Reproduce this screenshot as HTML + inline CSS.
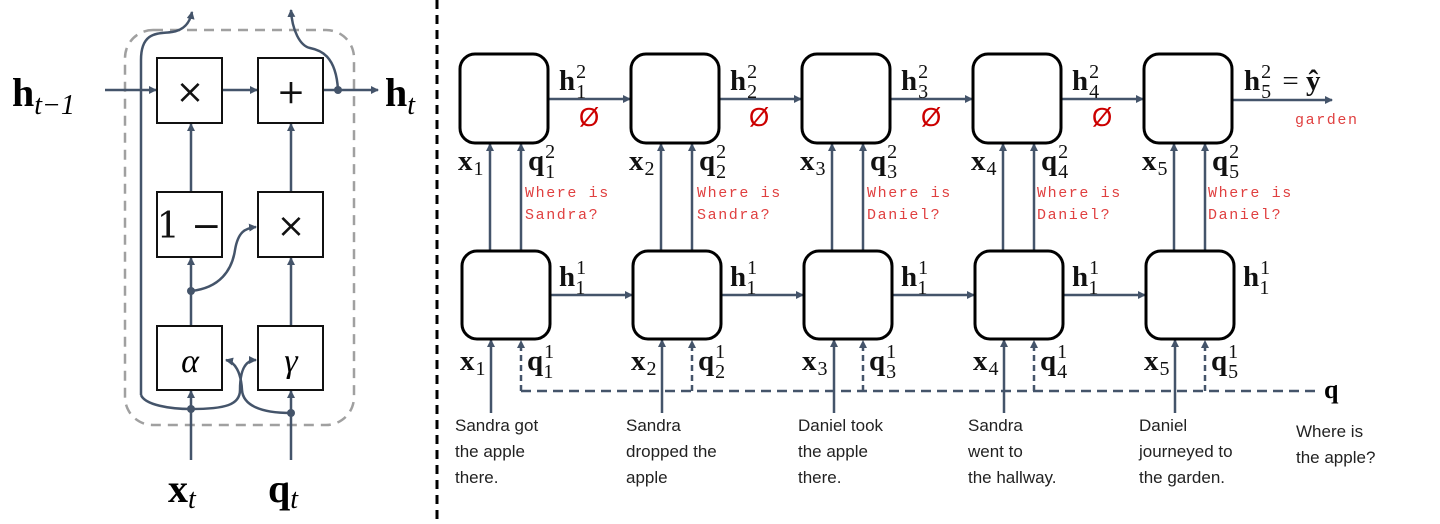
<!DOCTYPE html>
<html><head><meta charset="utf-8"><style>
html,body{margin:0;padding:0;background:#fff;}
svg{display:block;}
.m{font-family:"DejaVu Serif","Liberation Serif",serif;}
.b{font-family:"Liberation Serif",serif;font-weight:bold;}
.i{font-family:"Liberation Serif",serif;font-style:italic;}
.r{font-family:"Liberation Mono",monospace;fill:#e04040;font-size:15px;letter-spacing:1.6px;}
.c{font-family:"Liberation Sans",sans-serif;font-size:17px;fill:#222;}
.n{font-weight:normal;font-size:20px;}
</style></head><body>
<svg width="1440" height="524" viewBox="0 0 1440 524" xmlns="http://www.w3.org/2000/svg">
<defs>
<marker id="a" markerWidth="8" markerHeight="8" refX="7" refY="4" orient="auto" markerUnits="userSpaceOnUse">
<path d="M0,0 L8,4 L0,8 z" fill="#44546a"/></marker>
</defs>
<!-- LEFT -->
<rect x="125" y="30" width="229" height="395" rx="28" fill="none" stroke="#a0a0a0" stroke-width="2.5" stroke-dasharray="10,7"/>
<g fill="none" stroke="#44546a" stroke-width="2.5">
<line x1="105" y1="90" x2="156" y2="90" marker-end="url(#a)"/>
<line x1="222" y1="90" x2="257" y2="90" marker-end="url(#a)"/>
<line x1="323" y1="90" x2="378" y2="90" marker-end="url(#a)"/>
<path d="M338,90 C336,55 320,50 310,48 C300,46 292,30 291,10" marker-end="url(#a)"/>
<path d="M141,395 L141,60 C141,30 160,34 172,32 C185,30 190,22 192,12" marker-end="url(#a)"/>
<line x1="191" y1="192" x2="191" y2="124" marker-end="url(#a)"/>
<line x1="291" y1="192" x2="291" y2="124" marker-end="url(#a)"/>
<line x1="191" y1="326" x2="191" y2="258" marker-end="url(#a)"/>
<line x1="291" y1="326" x2="291" y2="258" marker-end="url(#a)"/>
<path d="M191,291 C220,288 232,270 235,250 C238,232 245,228 256,227" marker-end="url(#a)"/>
<line x1="191" y1="460" x2="191" y2="391" marker-end="url(#a)"/>
<line x1="291" y1="460" x2="291" y2="391" marker-end="url(#a)"/>
<path d="M141,395 C145,405 170,409 191,409 C225,409 240,405 240,390 C240,370 245,360 256,360" marker-end="url(#a)"/>
<path d="M291,413 C260,413 243,405 242,390 C241,372 235,362 226,360" marker-end="url(#a)"/>
</g>
<g fill="#44546a"><circle cx="338" cy="90" r="4"/><circle cx="191" cy="291" r="4"/><circle cx="191" cy="409" r="4"/><circle cx="291" cy="413" r="4"/></g>
<g fill="#fff" stroke="#111" stroke-width="2">
<rect x="157" y="58" width="65" height="65"/><rect x="258" y="58" width="65" height="65"/>
<rect x="157" y="192" width="65" height="65"/><rect x="258" y="192" width="65" height="65"/>
<rect x="157" y="326" width="65" height="64"/><rect x="258" y="326" width="65" height="64"/>
</g>
<g class="m" font-size="34" text-anchor="middle" fill="#111">
<text x="190" y="103">×</text><text x="291" y="103">+</text>
<text x="189" y="238" font-size="36">1 −</text><text x="291" y="237">×</text>
</g>
<text x="190" y="372" class="i" font-size="34" text-anchor="middle">α</text>
<text x="291" y="372" class="i" font-size="34" text-anchor="middle">γ</text>
<text x="12" y="106" class="b" font-size="40">h<tspan class="i" font-weight="normal" font-size="28" dy="8">t−1</tspan></text>
<text x="385" y="106" class="b" font-size="40">h<tspan class="i" font-weight="normal" font-size="28" dy="8">t</tspan></text>
<text x="168" y="502" class="b" font-size="40">x<tspan class="i" font-weight="normal" font-size="28" dy="6">t</tspan></text>
<text x="268" y="502" class="b" font-size="40">q<tspan class="i" font-weight="normal" font-size="28" dy="6">t</tspan></text>
<line x1="437" y1="0" x2="437" y2="524" stroke="#000" stroke-width="3" stroke-dasharray="9,6"/>

<!-- RIGHT -->
<path d="M521,391 L1320,391" fill="none" stroke="#44546a" stroke-width="2.5" stroke-dasharray="10,6"/>
<text x="1324" y="398" class="b" font-size="26">q</text>
<g fill="none" stroke="#44546a" stroke-width="2.5">
<line x1="548" y1="99" x2="630" y2="99" marker-end="url(#a)"/>
<line x1="719" y1="99" x2="801" y2="99" marker-end="url(#a)"/>
<line x1="890" y1="99" x2="972" y2="99" marker-end="url(#a)"/>
<line x1="1061" y1="99" x2="1143" y2="99" marker-end="url(#a)"/>
<line x1="1232" y1="100" x2="1332" y2="100" marker-end="url(#a)"/>
<line x1="550" y1="295" x2="632" y2="295" marker-end="url(#a)"/>
<line x1="721" y1="295" x2="803" y2="295" marker-end="url(#a)"/>
<line x1="892" y1="295" x2="974" y2="295" marker-end="url(#a)"/>
<line x1="1063" y1="295" x2="1145" y2="295" marker-end="url(#a)"/>
<line x1="490" y1="251" x2="490" y2="144" marker-end="url(#a)"/><line x1="521" y1="251" x2="521" y2="144" marker-end="url(#a)"/>
<line x1="661" y1="251" x2="661" y2="144" marker-end="url(#a)"/><line x1="692" y1="251" x2="692" y2="144" marker-end="url(#a)"/>
<line x1="832" y1="251" x2="832" y2="144" marker-end="url(#a)"/><line x1="863" y1="251" x2="863" y2="144" marker-end="url(#a)"/>
<line x1="1003" y1="251" x2="1003" y2="144" marker-end="url(#a)"/><line x1="1034" y1="251" x2="1034" y2="144" marker-end="url(#a)"/>
<line x1="1174" y1="251" x2="1174" y2="144" marker-end="url(#a)"/><line x1="1205" y1="251" x2="1205" y2="144" marker-end="url(#a)"/>
<line x1="491" y1="413" x2="491" y2="340" marker-end="url(#a)"/>
<line x1="662" y1="413" x2="662" y2="340" marker-end="url(#a)"/>
<line x1="834" y1="413" x2="834" y2="340" marker-end="url(#a)"/>
<line x1="1004" y1="413" x2="1004" y2="340" marker-end="url(#a)"/>
<line x1="1175" y1="413" x2="1175" y2="340" marker-end="url(#a)"/>
</g>
<g fill="none" stroke="#44546a" stroke-width="2.5" stroke-dasharray="6,4">
<line x1="521" y1="391" x2="521" y2="341" marker-end="url(#a)"/>
<line x1="692" y1="391" x2="692" y2="341" marker-end="url(#a)"/>
<line x1="863" y1="391" x2="863" y2="341" marker-end="url(#a)"/>
<line x1="1034" y1="391" x2="1034" y2="341" marker-end="url(#a)"/>
<line x1="1205" y1="391" x2="1205" y2="341" marker-end="url(#a)"/>
</g>
<g fill="#fff" stroke="#000" stroke-width="3">
<rect x="460" y="54" width="88" height="89" rx="15"/><rect x="631" y="54" width="88" height="89" rx="15"/>
<rect x="802" y="54" width="88" height="89" rx="15"/><rect x="973" y="54" width="88" height="89" rx="15"/>
<rect x="1144" y="54" width="88" height="89" rx="15"/>
<rect x="462" y="251" width="88" height="88" rx="15"/><rect x="633" y="251" width="88" height="88" rx="15"/>
<rect x="804" y="251" width="88" height="88" rx="15"/><rect x="975" y="251" width="88" height="88" rx="15"/>
<rect x="1146" y="251" width="88" height="88" rx="15"/>
</g>
<g class="b" font-size="29" fill="#111">
<text x="559" y="90">h<tspan class="n" dx="1" dy="-12">2</tspan><tspan class="n" dx="-10" dy="20">1</tspan></text>
<text x="730" y="90">h<tspan class="n" dx="1" dy="-12">2</tspan><tspan class="n" dx="-10" dy="20">2</tspan></text>
<text x="901" y="90">h<tspan class="n" dx="1" dy="-12">2</tspan><tspan class="n" dx="-10" dy="20">3</tspan></text>
<text x="1072" y="90">h<tspan class="n" dx="1" dy="-12">2</tspan><tspan class="n" dx="-10" dy="20">4</tspan></text>
<text x="1244" y="90">h<tspan class="n" dx="1" dy="-12">2</tspan><tspan class="n" dx="-10" dy="20">5</tspan><tspan font-weight="normal" dx="4" dy="-8"> = </tspan>ŷ</text>
<text x="559" y="286">h<tspan class="n" dx="1" dy="-12">1</tspan><tspan class="n" dx="-10" dy="20">1</tspan></text>
<text x="730" y="286">h<tspan class="n" dx="1" dy="-12">1</tspan><tspan class="n" dx="-10" dy="20">1</tspan></text>
<text x="901" y="286">h<tspan class="n" dx="1" dy="-12">1</tspan><tspan class="n" dx="-10" dy="20">1</tspan></text>
<text x="1072" y="286">h<tspan class="n" dx="1" dy="-12">1</tspan><tspan class="n" dx="-10" dy="20">1</tspan></text>
<text x="1243" y="286">h<tspan class="n" dx="1" dy="-12">1</tspan><tspan class="n" dx="-10" dy="20">1</tspan></text>
<text x="458" y="170">x<tspan class="n" dx="1" dy="5">1</tspan></text>
<text x="629" y="170">x<tspan class="n" dx="1" dy="5">2</tspan></text>
<text x="800" y="170">x<tspan class="n" dx="1" dy="5">3</tspan></text>
<text x="971" y="170">x<tspan class="n" dx="1" dy="5">4</tspan></text>
<text x="1142" y="170">x<tspan class="n" dx="1" dy="5">5</tspan></text>
<text x="528" y="170">q<tspan class="n" dx="1" dy="-12">2</tspan><tspan class="n" dx="-10" dy="20">1</tspan></text>
<text x="699" y="170">q<tspan class="n" dx="1" dy="-12">2</tspan><tspan class="n" dx="-10" dy="20">2</tspan></text>
<text x="870" y="170">q<tspan class="n" dx="1" dy="-12">2</tspan><tspan class="n" dx="-10" dy="20">3</tspan></text>
<text x="1041" y="170">q<tspan class="n" dx="1" dy="-12">2</tspan><tspan class="n" dx="-10" dy="20">4</tspan></text>
<text x="1212" y="170">q<tspan class="n" dx="1" dy="-12">2</tspan><tspan class="n" dx="-10" dy="20">5</tspan></text>
<text x="460" y="370">x<tspan class="n" dx="1" dy="5">1</tspan></text>
<text x="631" y="370">x<tspan class="n" dx="1" dy="5">2</tspan></text>
<text x="802" y="370">x<tspan class="n" dx="1" dy="5">3</tspan></text>
<text x="973" y="370">x<tspan class="n" dx="1" dy="5">4</tspan></text>
<text x="1144" y="370">x<tspan class="n" dx="1" dy="5">5</tspan></text>
<text x="527" y="370">q<tspan class="n" dx="1" dy="-12">1</tspan><tspan class="n" dx="-10" dy="20">1</tspan></text>
<text x="698" y="370">q<tspan class="n" dx="1" dy="-12">1</tspan><tspan class="n" dx="-10" dy="20">2</tspan></text>
<text x="869" y="370">q<tspan class="n" dx="1" dy="-12">1</tspan><tspan class="n" dx="-10" dy="20">3</tspan></text>
<text x="1040" y="370">q<tspan class="n" dx="1" dy="-12">1</tspan><tspan class="n" dx="-10" dy="20">4</tspan></text>
<text x="1211" y="370">q<tspan class="n" dx="1" dy="-12">1</tspan><tspan class="n" dx="-10" dy="20">5</tspan></text>
</g>
<g fill="#cc0000" font-family="Liberation Sans,sans-serif" font-size="26">
<text x="579" y="126">Ø</text><text x="749" y="126">Ø</text><text x="921" y="126">Ø</text><text x="1092" y="126">Ø</text>
</g>
<text x="1295" y="124" class="r">garden</text>
<g class="r">
<text x="525" y="197">Where is</text><text x="525" y="219">Sandra?</text>
<text x="697" y="197">Where is</text><text x="697" y="219">Sandra?</text>
<text x="867" y="197">Where is</text><text x="867" y="219">Daniel?</text>
<text x="1037" y="197">Where is</text><text x="1037" y="219">Daniel?</text>
<text x="1208" y="197">Where is</text><text x="1208" y="219">Daniel?</text>
</g>
<g class="c">
<text x="455" y="431">Sandra got</text><text x="455" y="457">the apple</text><text x="455" y="483">there.</text>
<text x="626" y="431">Sandra</text><text x="626" y="457">dropped the</text><text x="626" y="483">apple</text>
<text x="798" y="431">Daniel took</text><text x="798" y="457">the apple</text><text x="798" y="483">there.</text>
<text x="968" y="431">Sandra</text><text x="968" y="457">went to</text><text x="968" y="483">the hallway.</text>
<text x="1139" y="431">Daniel</text><text x="1139" y="457">journeyed to</text><text x="1139" y="483">the garden.</text>
<text x="1296" y="437">Where is</text><text x="1296" y="463">the apple?</text>
</g>
</svg>
</body></html>
